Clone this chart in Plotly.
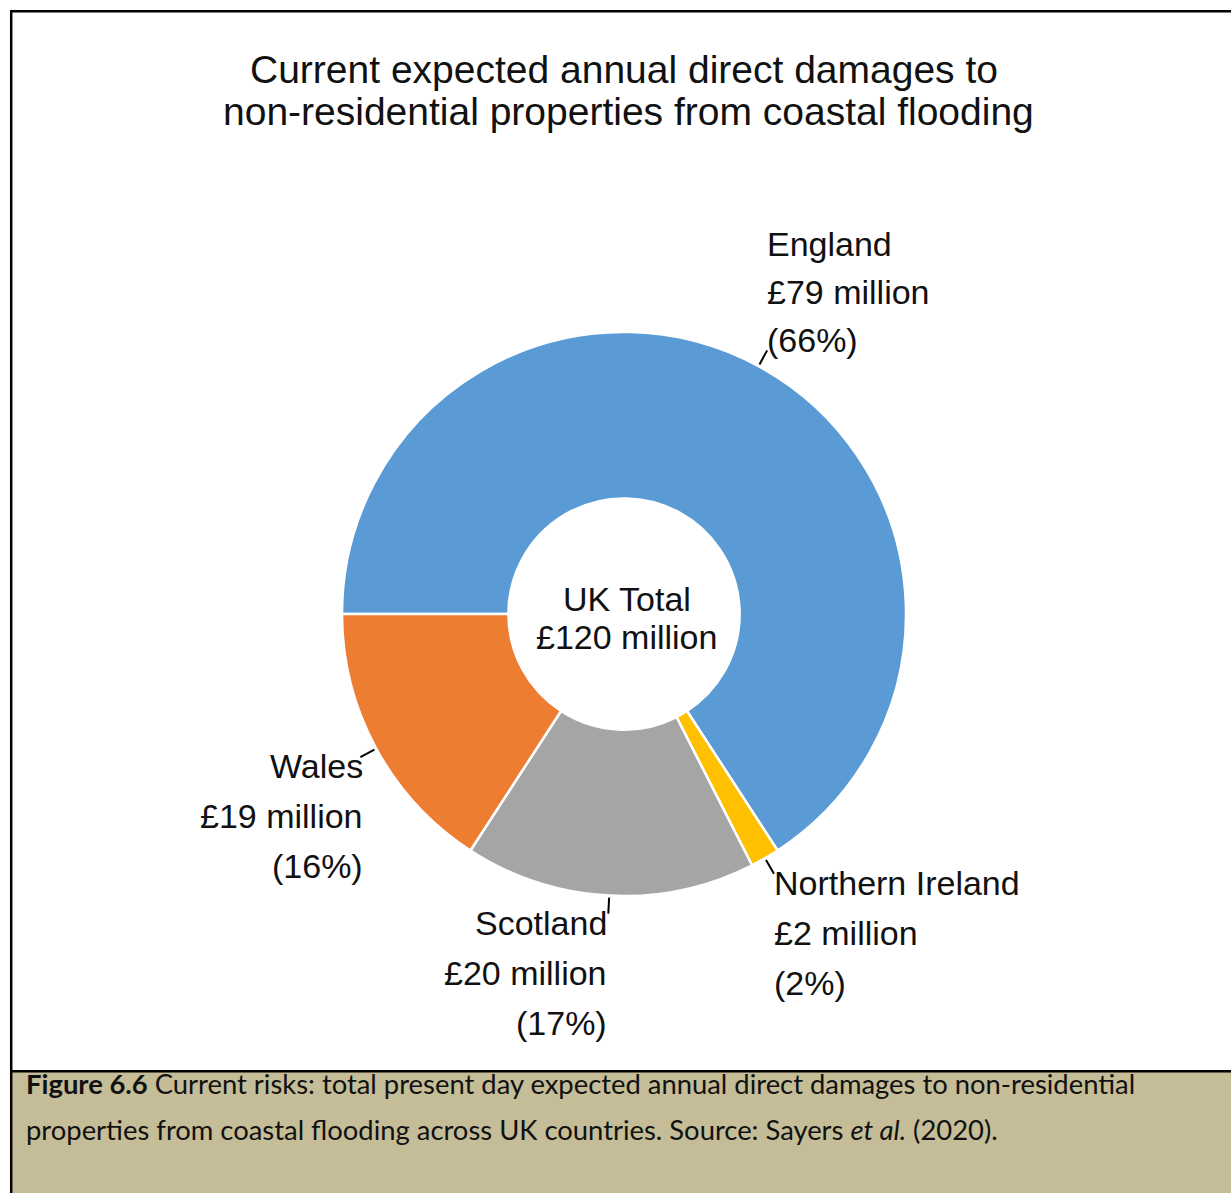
import math
import plotly.graph_objects as go

# Expected annual direct damages (GBP million) by UK country, clockwise from 9 o'clock
countries = ["England", "Northern Ireland", "Scotland", "Wales"]
damages = [79, 2, 20, 19]
shares = ["(66%)", "(2%)", "(17%)", "(16%)"]
amount_labels = ["£79 million", "£2 million", "£20 million", "£19 million"]
colors = ["#5B9BD5", "#FFC000", "#A5A5A5", "#ED7D31"]

total_label = ["UK Total", "£120 million"]
title_lines = ["Current expected annual direct damages to",
               "non-residential properties from coastal flooding"]

W, H = 1231, 1193
CX, CY, R = 624, 614, 282   # donut centre and outer radius in pixels
ROTATION = 270              # first slice starts at 9 o'clock


def px(x):
    return x / W


def py(y):
    return 1 - y / H


fig = go.Figure()
fig.add_trace(go.Pie(
    labels=countries,
    values=damages,
    sort=False,
    direction="clockwise",
    rotation=ROTATION,
    hole=0.41,
    marker=dict(colors=colors, line=dict(color="white", width=2.5)),
    textinfo="none",
    hoverinfo="skip",
    showlegend=False,
    domain=dict(x=[px(CX - R), px(CX + R)], y=[py(CY + R), py(CY - R)]),
))

shapes = []
annotations = []

# Short radial leader lines at each slice's mid-angle
tot = sum(damages)
cum = 0
for v in damages:
    ang = math.radians(ROTATION + 360 * (cum + v / 2) / tot)
    cum += v
    r0, r1 = R + 2, R + 18
    shapes.append(dict(
        type="line", xref="paper", yref="paper",
        x0=px(CX + r0 * math.sin(ang)), y0=py(CY - r0 * math.cos(ang)),
        x1=px(CX + r1 * math.sin(ang)), y1=py(CY - r1 * math.cos(ang)),
        line=dict(color="black", width=2),
    ))

LABEL_FONT = dict(family="Liberation Sans, Arial, sans-serif", size=34, color="#111111")


def text(x, y, s, anchor, font=LABEL_FONT):
    annotations.append(dict(
        x=px(x), y=py(y), xref="paper", yref="paper", text=s,
        showarrow=False, xanchor=anchor, yanchor="middle", font=font,
    ))


# Title (two lines)
title_font = dict(family="Liberation Sans, Arial, sans-serif", size=39, color="#111111")
text(624, 70, title_lines[0], "center", title_font)
text(628, 111, title_lines[1], "center", title_font)

# Centre total
text(627, 599, total_label[0], "center")
text(627, 637, total_label[1], "center")

# Slice labels: (x, first baseline, line step, anchor)
label_pos = {
    "England": (765, 256, 48, "left"),
    "Northern Ireland": (772, 895, 50, "left"),
    "Scotland": (609, 935, 50, "right"),
    "Wales": (365, 778, 50, "right"),
}
for name, amt, sh in zip(countries, amount_labels, shares):
    x, b, step, anchor = label_pos[name]
    for i, s in enumerate([name, amt, sh]):
        text(x, b + i * step - 12, s, anchor)

# Caption panel
shapes.append(dict(type="rect", xref="paper", yref="paper",
                   x0=px(11), x1=1.01, y0=-0.01, y1=py(1071),
                   fillcolor="#C4BD97", line=dict(width=0), layer="below"))
for (x0, y0, x1, y1) in [(10, 11.2, W, 11.2), (11.2, 10, 11.2, H), (11, 1071.2, W, 1071.2)]:
    shapes.append(dict(type="line", xref="paper", yref="paper",
                       x0=px(x0), y0=py(y0), x1=px(x1), y1=py(y1),
                       line=dict(color="black", width=2.5)))

cap_font = dict(family="Lato, Noto Sans, sans-serif", size=27.4, color="#111111")
annotations.append(dict(
    x=px(24), y=py(1093 - 10), xref="paper", yref="paper", showarrow=False,
    xanchor="left", yanchor="middle", font=cap_font,
    text="<b>Figure 6.6</b> Current risks: total present day expected annual direct damages to non-residential",
))
annotations.append(dict(
    x=px(24), y=py(1139 - 10), xref="paper", yref="paper", showarrow=False,
    xanchor="left", yanchor="middle", font=cap_font,
    text="properties from coastal flooding across UK countries. Source: Sayers <i>et al.</i> (2020).",
))

fig.update_layout(
    width=W, height=H,
    margin=dict(l=0, r=0, t=0, b=0),
    paper_bgcolor="white",
    plot_bgcolor="white",
    shapes=shapes,
    annotations=annotations,
)

fig.write_html("out.html")
